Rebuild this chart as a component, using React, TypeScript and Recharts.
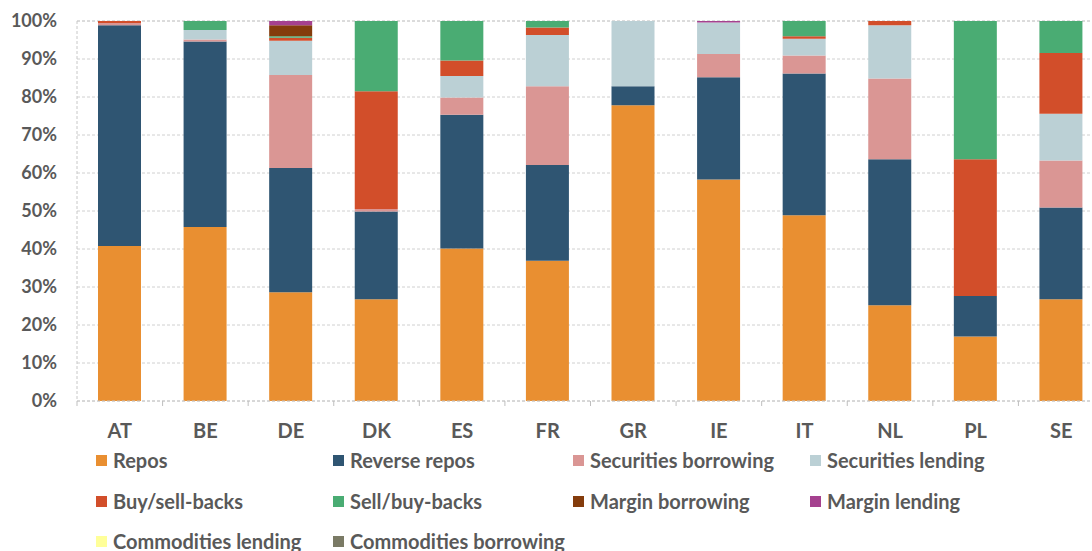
import React from 'react';
import { BarChart, Bar, XAxis, YAxis, CartesianGrid } from 'recharts';

// Countries on the category axis
const countries = ['AT', 'BE', 'DE', 'DK', 'ES', 'FR', 'GR', 'IE', 'IT', 'NL', 'PL', 'SE'];

// Share of each transaction type per country (percent of total)
const repos = [40.8, 45.8, 28.6, 26.8, 40.1, 36.9, 77.8, 58.3, 48.9, 25.2, 17.0, 26.8];
const reverseRepos = [58.1, 48.8, 32.7, 23.1, 35.2, 25.2, 5.0, 26.9, 37.3, 38.4, 10.6, 24.1];
const securitiesBorrowing = [0.6, 0.5, 24.5, 0.6, 4.6, 20.7, 0, 6.1, 4.7, 21.3, 0, 12.4];
const securitiesLending = [0, 2.5, 9.0, 0, 5.6, 13.5, 17.2, 8.3, 4.4, 14.0, 0, 12.3];
const buySellBacks = [0.5, 0, 0.8, 31.0, 4.1, 2.0, 0, 0, 0.7, 1.1, 36.0, 16.0];
const sellBuyBacks = [0, 2.4, 0.4, 18.5, 10.4, 1.7, 0, 0, 4.0, 0, 36.4, 8.4];
const marginBorrowing = [0, 0, 2.9, 0, 0, 0, 0, 0, 0, 0, 0, 0];
const marginLending = [0, 0, 1.1, 0, 0, 0, 0, 0.4, 0, 0, 0, 0];
const commoditiesLending = [0, 0, 0, 0, 0, 0, 0, 0, 0, 0, 0, 0];
const commoditiesBorrowing = [0, 0, 0, 0, 0, 0, 0, 0, 0, 0, 0, 0];

const yTicks = [0, 10, 20, 30, 40, 50, 60, 70, 80, 90, 100];

const series = [
  { key: 'repos', name: 'Repos', values: repos, color: '#E98F31' },
  { key: 'reverse', name: 'Reverse repos', values: reverseRepos, color: '#2F5572' },
  { key: 'secBorrow', name: 'Securities borrowing', values: securitiesBorrowing, color: '#DA9694' },
  { key: 'secLend', name: 'Securities lending', values: securitiesLending, color: '#BBD0D5' },
  { key: 'buySell', name: 'Buy/sell-backs', values: buySellBacks, color: '#D24E2A' },
  { key: 'sellBuy', name: 'Sell/buy-backs', values: sellBuyBacks, color: '#4AAC73' },
  { key: 'marginBorrow', name: 'Margin borrowing', values: marginBorrowing, color: '#843C0C' },
  { key: 'marginLend', name: 'Margin lending', values: marginLending, color: '#A5418F' },
  { key: 'commLend', name: 'Commodities lending', values: commoditiesLending, color: '#FFFF99' },
  { key: 'commBorrow', name: 'Commodities borrowing', values: commoditiesBorrowing, color: '#7A7A65' },
];

const data = countries.map((c, i) => {
  const row: Record<string, string | number> = { country: c };
  series.forEach((s) => {
    row[s.key] = s.values[i];
  });
  return row;
});

const FONT = 'Lato, "Liberation Sans", sans-serif';
const TEXT = '#595959';
const CHART_W = 1110;
const CHART_H = 551;
const PLOT_LEFT = 77;
const PLOT_RIGHT_MARGIN = 6;
const BAND = (CHART_W - PLOT_LEFT - PLOT_RIGHT_MARGIN) / countries.length;

const CategoryTick = (props: any) => {
  const { x, y, payload, index } = props;
  const half = BAND / 2;
  return (
    <g>
      <line x1={x - half} x2={x - half} y1={y} y2={y + 5} stroke="#bfbfbf" strokeWidth={1} />
      {index === countries.length - 1 && (
        <line x1={x + half} x2={x + half} y1={y} y2={y + 5} stroke="#bfbfbf" strokeWidth={1} />
      )}
      <text
        x={x}
        y={y + 37}
        textAnchor="middle"
        fill={TEXT}
        fontFamily={FONT}
        fontWeight={700}
        fontSize={20}
      >
        {payload.value}
      </text>
    </g>
  );
};

const legendCols = [96, 333, 573, 810];
const legendRows = [460, 501, 541];

export default function App() {
  return (
    <div
      style={{
        position: 'fixed',
        left: 0,
        top: 0,
        width: 1092,
        height: 551,
        overflow: 'hidden',
        background: '#ffffff',
        fontFamily: FONT,
      }}
    >
      <BarChart
        width={CHART_W}
        height={CHART_H}
        data={data}
        margin={{ top: 21, right: PLOT_RIGHT_MARGIN, left: 0, bottom: 0 }}
        barSize={43}
      >
        <CartesianGrid vertical={false} stroke="#d0d0d0" strokeDasharray="3 2" />
        <XAxis
          dataKey="country"
          height={150}
          axisLine={{ stroke: '#c8c8c8', strokeDasharray: '3 2' }}
          tickLine={false}
          tickSize={0}
          tickMargin={0}
          interval={0}
          tick={<CategoryTick />}
        />
        <YAxis
          width={PLOT_LEFT}
          domain={[0, 100]}
          ticks={yTicks}
          axisLine={{ stroke: '#c8c8c8', strokeDasharray: '3 2' }}
          tickLine={false}
          tickSize={0}
          tickMargin={20}
          tickFormatter={(v: number) => `${v}%`}
          tick={{ fill: TEXT, fontFamily: FONT, fontWeight: 700, fontSize: 18 }}
        />
        {series.map((s) => (
          <Bar
            key={s.key}
            dataKey={s.key}
            name={s.name}
            stackId="total"
            fill={s.color}
            isAnimationActive={false}
          />
        ))}
      </BarChart>
      {series.map((s, i) => {
        const col = i % 4;
        const row = Math.floor(i / 4);
        return (
          <div
            key={s.key}
            style={{
              position: 'absolute',
              left: legendCols[col],
              top: legendRows[row] - 13,
              height: 26,
              display: 'flex',
              alignItems: 'center',
              whiteSpace: 'nowrap',
              color: TEXT,
              fontFamily: FONT,
              fontWeight: 700,
              fontSize: 20,
            }}
          >
            <span
              style={{
                display: 'inline-block',
                width: 11,
                height: 11,
                background: s.color,
                marginRight: 6,
              }}
            />
            {s.name}
          </div>
        );
      })}
    </div>
  );
}
